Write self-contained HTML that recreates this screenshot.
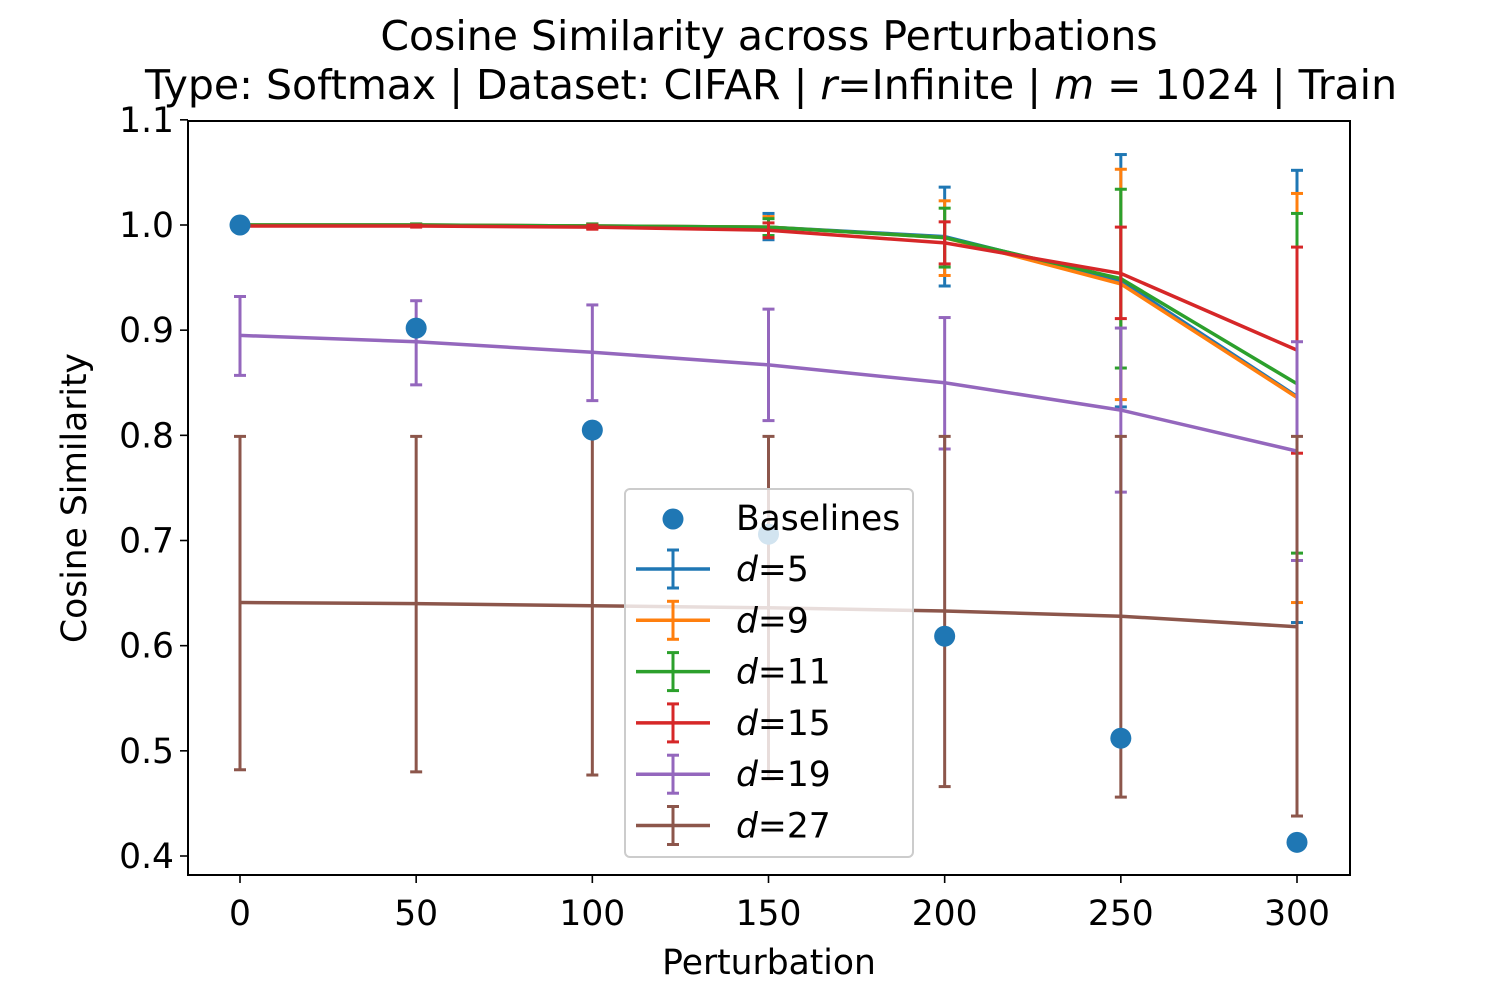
<!DOCTYPE html>
<html><head><meta charset="utf-8"><style>
body{margin:0;background:#fff}
svg text{font-family:"DejaVu Sans","Liberation Sans",sans-serif;fill:#000}
</style></head><body>
<svg id="c" width="1500" height="1000" xmlns="http://www.w3.org/2000/svg"></svg>
<script>
const xs=[0,50,100,150,200,250,300];
const baselines=[1.0,0.902,0.805,0.706,0.609,0.512,0.413];
const names=["d=5","d=9","d=11","d=15","d=19","d=27"];
const colors=["#1f77b4","#ff7f0e","#2ca02c","#d62728","#9467bd","#8c564b"];
const m5=[1.0,1.0,0.999,0.998,0.989,0.947,0.837];
const m9=[1.0,1.0,0.999,0.998,0.988,0.944,0.836];
const m11=[1.0,1.0,0.999,0.998,0.988,0.949,0.849];
const m15=[0.999,0.999,0.998,0.995,0.983,0.954,0.881];
const m19=[0.895,0.889,0.879,0.867,0.850,0.824,0.785];
const m27=[0.641,0.640,0.638,0.636,0.633,0.628,0.618];
const hi5=[1.001,1.001,1.001,1.011,1.036,1.067,1.052];
const lo5=[0.999,0.999,0.997,0.986,0.942,0.827,0.622];
const hi9=[1.001,1.001,1.001,1.008,1.023,1.053,1.030];
const lo9=[0.999,0.999,0.997,0.988,0.952,0.834,0.641];
const hi11=[1.001,1.001,1.001,1.006,1.016,1.034,1.011];
const lo11=[0.999,0.999,0.997,0.990,0.960,0.864,0.688];
const hi15=[1.0,1.0,1.0,1.002,1.003,0.998,0.979];
const lo15=[0.998,0.998,0.996,0.988,0.963,0.911,0.783];
const hi19=[0.932,0.928,0.924,0.920,0.912,0.902,0.889];
const lo19=[0.857,0.848,0.833,0.814,0.787,0.746,0.681];
const hi27=[0.799,0.799,0.799,0.799,0.799,0.799,0.799];
const lo27=[0.482,0.480,0.477,0.473,0.466,0.456,0.438];
const xTicks=[0,50,100,150,200,250,300];
const yTicks=[0.4,0.5,0.6,0.7,0.8,0.9,1.0,1.1];
const means=[m5,m9,m11,m15,m19,m27],his=[hi5,hi9,hi11,hi15,hi19,hi27],los=[lo5,lo9,lo11,lo15,lo19,lo27];
const L=188,R=1350,T=121,B=875;
const X=v=>240+(v-0)*(1297-240)/300;
const Y=v=>225+(1.0-v)*(856-225)/0.6;
const svg=document.getElementById('c');const NS='http://www.w3.org/2000/svg';
function mk(t,a,p){const e=document.createElementNS(NS,t);for(const k in a)e.setAttribute(k,a[k]);(p||svg).appendChild(e);return e;}
means.forEach((m,i)=>{
 const g=mk('g',{});
 
 
 xs.forEach((x,j)=>{
  mk('line',{x1:X(x),x2:X(x),y1:Y(his[i][j]),y2:Y(los[i][j]),stroke:colors[i],'stroke-width':3},g);
  [his[i][j],los[i][j]].forEach(v=>mk('line',{x1:X(x)-6,x2:X(x)+6,y1:Y(v),y2:Y(v),stroke:colors[i],'stroke-width':3},g));
 });
 mk('polyline',{points:xs.map((x,j)=>X(x)+','+Y(m[j])).join(' '),fill:'none',stroke:colors[i],'stroke-width':3.5},g);
});
const bg=mk('g',{});


xs.forEach((x,j)=>mk('circle',{cx:X(x),cy:Y(baselines[j]),r:10.5,fill:'#1f77b4'},bg));
const ax=mk('rect',{x:L,y:T,width:R-L,height:B-T,fill:'none',stroke:'#000','stroke-width':2});


xTicks.forEach(v=>{mk('line',{x1:X(v),x2:X(v),y1:B,y2:B+8,stroke:'#000','stroke-width':1.6});
 const t=mk('text',{x:X(v),y:B+50,'text-anchor':'middle','font-size':34.5});t.textContent=v;
 
 });
yTicks.forEach(v=>{mk('line',{x1:L-8,x2:L,y1:Y(v),y2:Y(v),stroke:'#000','stroke-width':1.6});
 const t=mk('text',{x:L-14,y:Y(v)+12,'text-anchor':'end','font-size':34.5});t.textContent=v.toFixed(1);
 
 });
const lg=mk('g',{});


mk('rect',{x:625,y:489,width:288,height:368,rx:5,fill:'rgba(255,255,255,0.8)',stroke:'#ccc','stroke-width':2},lg);
mk('circle',{cx:673,cy:519,r:10.5,fill:'#1f77b4'},lg);
let tb=mk('text',{x:736,y:530,'font-size':34.5},lg);tb.textContent='Baselines';
names.forEach((n,i)=>{const y=569+i*51.3;
 mk('line',{x1:636,x2:710,y1:y,y2:y,stroke:colors[i],'stroke-width':3.5},lg);
 mk('line',{x1:673,x2:673,y1:y-19,y2:y+19,stroke:colors[i],'stroke-width':3},lg);
 mk('line',{x1:667,x2:679,y1:y-19,y2:y-19,stroke:colors[i],'stroke-width':3},lg);
 mk('line',{x1:667,x2:679,y1:y+19,y2:y+19,stroke:colors[i],'stroke-width':3},lg);
 const t=mk('text',{x:736,y:y+12,'font-size':34.5},lg);
 t.innerHTML='<tspan font-style="italic">d</tspan>='+n.split('=')[1];
 
 });
</script>
<div style="position:absolute;left:0;top:0;width:1500px;height:1000px;pointer-events:none">
<svg width="1500" height="1000" xmlns="http://www.w3.org/2000/svg">
<text x="769" y="50" text-anchor="middle" font-size="41">Cosine Similarity across Perturbations</text>
<text x="771" y="99" text-anchor="middle" font-size="41">Type: Softmax | Dataset: CIFAR | <tspan font-style="italic">r</tspan>=Infinite | <tspan font-style="italic">m</tspan> = 1024 | Train</text>
<text x="769" y="974" text-anchor="middle" font-size="34.5">Perturbation</text>
<text transform="translate(86,498) rotate(-90)" text-anchor="middle" font-size="34.5">Cosine Similarity</text>
</svg></div>
</body></html>
